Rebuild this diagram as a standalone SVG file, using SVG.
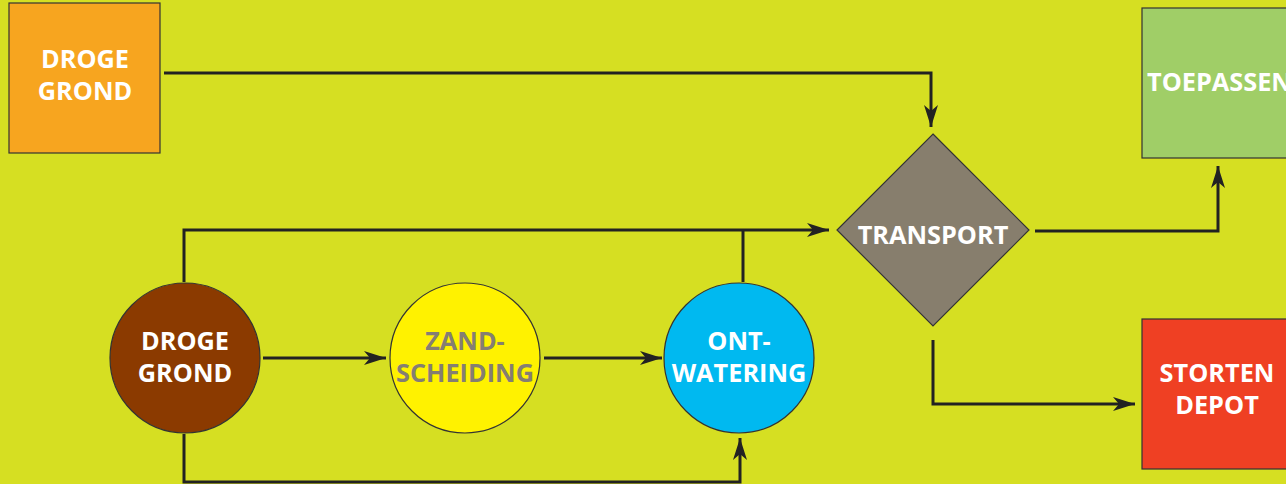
<svg xmlns="http://www.w3.org/2000/svg" width="1286" height="484" viewBox="0 0 1286 484">
<style>
.bx{stroke:#333;stroke-width:1.2}
.t{font-family:"Open Sans","Noto Sans",sans-serif;font-weight:700;font-size:25.3px;text-anchor:middle;fill:#fff}
.g{fill:#857e72}
.c{fill:none;stroke:#222;stroke-width:3}
</style>
<defs>
<marker id="a" markerUnits="userSpaceOnUse" markerWidth="24" markerHeight="16" refX="22" refY="8" orient="auto">
<path d="M0,1 L22,8 L0,15 L6,8 z" fill="#222"/>
</marker>
</defs>
<rect width="1286" height="484" fill="#d6df22"/>
<g id="connectors">
<path class="c" d="M164,73 H931 V127" marker-end="url(#a)"/>
<path class="c" d="M184,282 V230 H829" marker-end="url(#a)"/>
<path class="c" d="M743,282 V230"/>
<path class="c" d="M263,358 H386" marker-end="url(#a)"/>
<path class="c" d="M544,358 H662" marker-end="url(#a)"/>
<path class="c" d="M184,434 V482 H740 V438" marker-end="url(#a)"/>
<path class="c" d="M1035,231 H1218 V166" marker-end="url(#a)"/>
<path class="c" d="M933,340 V404 H1135" marker-end="url(#a)"/>
</g>
<g id="droge-grond-box">
<rect class="bx" x="9" y="3" width="151" height="150" fill="#f7a51f"/>
<text class="t" x="85" y="68">DROGE</text>
<text class="t" x="85" y="100">GROND</text>
</g>
<g id="transport">
<polygon class="bx" points="933,134 1029,230 933,326 837,230" fill="#877e6d"/>
<text class="t" x="933" y="244">TRANSPORT</text>
</g>
<g id="toepassen">
<rect class="bx" x="1142" y="8" width="150" height="150" fill="#a0ce67"/>
<text class="t" x="1147" y="91" style="text-anchor:start">TOEPASSEN</text>
</g>
<g id="storten-depot">
<rect class="bx" x="1142" y="319" width="150" height="150" fill="#ef4023"/>
<text class="t" x="1217" y="382">STORTEN</text>
<text class="t" x="1217" y="414">DEPOT</text>
</g>
<g id="droge-grond-circle">
<circle class="bx" cx="185" cy="358" r="75" fill="#8b3a00"/>
<text class="t" x="185" y="350">DROGE</text>
<text class="t" x="185" y="382">GROND</text>
</g>
<g id="zandscheiding">
<circle class="bx" cx="465" cy="358" r="75" fill="#fff200"/>
<text class="t g" x="465" y="350">ZAND-</text>
<text class="t g" x="465" y="382">SCHEIDING</text>
</g>
<g id="ontwatering">
<circle class="bx" cx="739" cy="358" r="75" fill="#00b9f0"/>
<text class="t" x="739" y="350">ONT-</text>
<text class="t" x="739" y="382">WATERING</text>
</g>
</svg>
